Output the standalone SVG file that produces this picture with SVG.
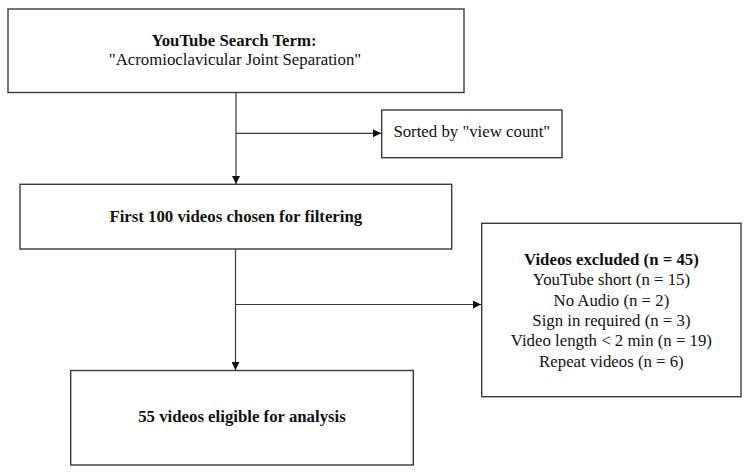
<svg xmlns="http://www.w3.org/2000/svg" width="750" height="475" viewBox="0 0 750 475">
<defs>
<style>
.box{fill:#fff;stroke:#3a3a3a;stroke-width:1.4}
.t{font-family:"Liberation Serif","Times New Roman",serif;font-size:16.8px;fill:#111;text-anchor:middle}
.b{font-weight:bold}
.c{fill:none;stroke:#3a3a3a;stroke-width:1.2}
</style>
<marker id="ah" viewBox="0 0 10 10" refX="10" refY="5" markerWidth="8" markerHeight="8" markerUnits="userSpaceOnUse" orient="auto">
<path d="M0,0L10,5L0,10z" fill="#111"/>
</marker>
</defs>
<rect width="750" height="475" fill="#fff"/>
<g id="connectors">
<line class="c" x1="236" y1="92.5" x2="236" y2="184" marker-end="url(#ah)"/>
<line class="c" x1="236" y1="133.3" x2="381" y2="133.3" marker-end="url(#ah)"/>
<line class="c" x1="235.5" y1="249" x2="235.5" y2="370" marker-end="url(#ah)"/>
<line class="c" x1="235.5" y1="304.5" x2="481" y2="304.5" marker-end="url(#ah)"/>
</g>
<g id="search">
<rect class="box" x="8" y="9" width="456" height="83.5"/>
<text class="t b" x="234" y="46">YouTube Search Term:</text>
<text class="t" x="235" y="65">"Acromioclavicular Joint Separation"</text>
</g>
<g id="sorted">
<rect class="box" x="381.7" y="110" width="180.3" height="47.7"/>
<text class="t" x="471.8" y="137.3">Sorted by "view count"</text>
</g>
<g id="first100">
<rect class="box" x="20" y="184.3" width="431.7" height="64.7"/>
<text class="t b" x="235.8" y="222">First 100 videos chosen for filtering</text>
</g>
<g id="excluded">
<rect class="box" x="481.7" y="223.3" width="259.3" height="173.4"/>
<text class="t b" x="611.4" y="264.5">Videos excluded (n = 45)</text>
<text class="t" x="611.4" y="285.2">YouTube short (n = 15)</text>
<text class="t" x="611.4" y="305.6">No Audio (n = 2)</text>
<text class="t" x="611.4" y="326">Sign in required (n = 3)</text>
<text class="t" x="611.4" y="346.2">Video length &lt; 2 min (n = 19)</text>
<text class="t" x="611.4" y="366.5">Repeat videos (n = 6)</text>
</g>
<g id="eligible">
<rect class="box" x="70.7" y="370.5" width="342.6" height="94.5"/>
<text class="t b" x="242" y="421.7">55 videos eligible for analysis</text>
</g>
</svg>
